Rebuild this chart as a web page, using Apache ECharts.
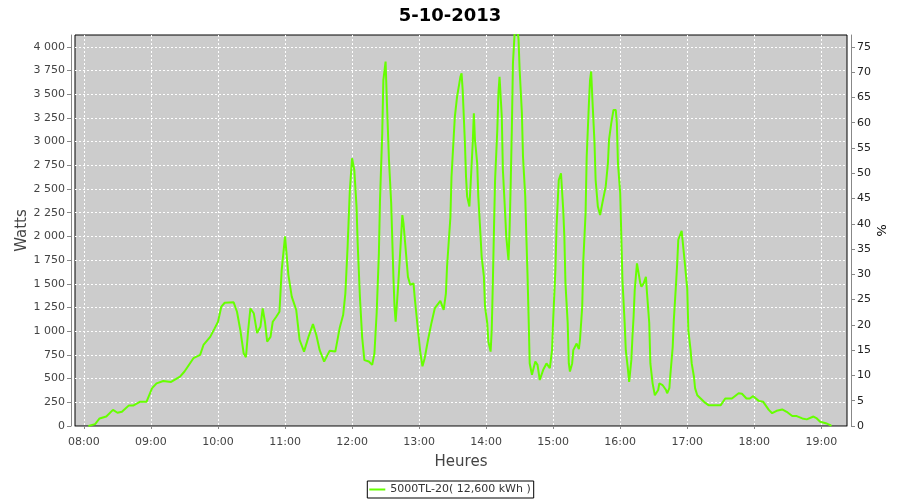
<!DOCTYPE html>
<html>
<head>
<meta charset="utf-8">
<script src="https://cdn.jsdelivr.net/npm/echarts@6/dist/echarts.min.js"></script>
<style>
html,body{margin:0;padding:0;background:#fff;}
#chart{width:900px;height:500px;}
</style>
</head>
<body>
<div id="chart"></div>
<script>
var day = '2013-10-05';
var title = '5-10-2013';
var seriesName = '5000TL-20( 12,600 kWh )';
var times = ['08:04','08:10','08:14','08:20','08:26','08:30','08:34','08:40','08:44','08:50','08:56',
'09:01','09:05','09:11','09:18','09:26','09:30','09:38','09:44','09:47','09:53','09:57',
'10:00','10:03','10:06','10:14','10:17','10:20','10:23','10:25','10:27','10:29','10:32','10:35','10:38','10:40','10:42','10:44','10:47','10:49','10:52','10:55','10:57',
'11:00','11:03','11:06','11:10','11:13','11:17','11:21','11:25','11:28','11:31','11:35','11:40','11:45','11:49','11:52','11:54','11:56','11:58',
'12:00','12:02','12:04','12:05','12:07','12:09','12:11','12:15','12:18','12:20','12:22','12:24','12:25','12:27','12:28','12:30','12:31','12:33','12:35','12:37','12:38','12:39','12:41','12:43','12:45','12:46','12:48','12:50','12:52','12:55','12:56','12:59',
'13:01','13:03','13:05','13:08','13:11','13:14','13:19','13:22','13:24','13:25','13:28','13:29','13:31','13:32','13:34','13:37','13:38','13:39','13:41','13:42','13:43','13:45','13:46','13:48','13:49','13:50','13:52','13:53','13:55','13:56','13:58','13:59',
'14:01','14:02','14:04','14:05','14:06','14:07','14:08','14:10','14:11','14:12','14:14','14:15','14:17','14:18','14:20','14:21','14:22','14:23','14:24','14:26','14:28','14:29','14:30','14:32','14:33','14:35','14:36','14:37','14:38','14:39','14:41','14:44','14:46','14:48','14:51','14:54','14:57','14:59',
'15:00','15:02','15:03','15:05','15:07','15:09','15:10','15:11','15:13','15:14','15:15','15:17','15:18','15:21','15:23','15:24','15:26','15:27','15:29','15:30','15:32','15:33','15:34','15:35','15:37','15:38','15:40','15:42','15:44','15:47','15:49','15:50','15:52','15:54','15:56','15:57','15:58',
'16:00','16:01','16:02','16:04','16:05','16:07','16:08','16:10','16:11','16:12','16:13','16:15','16:16','16:18','16:19','16:21','16:23','16:24','16:26','16:27','16:29','16:31','16:34','16:35','16:38','16:41','16:42','16:44','16:45','16:47','16:48','16:50','16:51','16:52','16:55','16:56','16:58',
'17:00','17:01','17:03','17:04','17:06','17:07','17:09','17:12','17:15','17:19','17:30','17:34','17:40','17:46','17:49','17:53','17:56','17:59',
'18:04','18:08','18:13','18:16','18:20','18:25','18:29','18:34','18:38','18:43','18:47','18:53','18:56','18:59',
'19:04','19:08','19:09'];
var watts = [0,20,80,100,170,140,150,215,215,255,255,
400,450,475,465,520,575,715,750,855,940,1030,
1100,1260,1300,1305,1205,1010,765,725,1010,1240,1190,980,1050,1240,1100,890,940,1100,1150,1205,1645,
2000,1595,1365,1225,910,785,940,1075,960,800,680,795,785,1040,1170,1400,1890,2490,
2825,2700,2315,1930,1365,940,695,680,645,765,1190,1820,2385,3090,3650,3845,3475,2810,2350,1575,1260,1100,1435,1820,2225,2140,1860,1575,1490,1505,1365,1010,
785,630,715,910,1085,1240,1320,1225,1400,1680,2200,2630,3055,3265,3475,3685,3720,3545,2985,2630,2420,2315,2525,2985,3300,3020,2770,2420,2000,1785,1575,1260,
1085,890,785,1010,1505,2070,2595,3125,3510,3685,3265,2700,2245,2000,1750,2070,2560,3125,3830,4250,4200,4075,3755,3300,2840,2420,2000,1610,1155,660,540,680,645,485,590,660,610,800,
1120,1645,2100,2595,2665,2280,2000,1505,1085,660,575,660,800,870,810,910,1260,1750,2245,2840,3405,3650,3740,3475,2985,2595,2315,2225,2350,2525,2770,3020,3195,3335,3335,3195,2770,
2455,2000,1540,1085,800,590,465,700,950,1155,1435,1715,1645,1505,1470,1505,1575,1400,1085,660,450,325,380,450,430,380,345,400,555,835,1120,1505,1715,1965,2060,2070,1700,
1450,1010,800,660,520,400,325,290,255,220,220,290,290,345,340,290,290,315,
265,255,170,135,160,175,150,105,105,80,70,100,80,45,
30,10,0];

var data = times.map(function (t, i) { return [day + ' ' + t, watts[i]]; });

function thousands(v) {
  if (v >= 1000) {
    var r = String(v % 1000);
    while (r.length < 3) r = '0' + r;
    return Math.floor(v / 1000) + ' ' + r;
  }
  return String(v);
}

var font = 'DejaVu Sans';
var labelColor = '#444444';
var axisGray = '#888888';
var gridLine = {show: true, showMinLine: false, showMaxLine: false,
                lineStyle: {color: '#ffffff', type: [2, 2], width: 1}};

var chart = echarts.init(document.getElementById('chart'), null, {renderer: 'canvas'});
chart.setOption({
  animation: false,
  backgroundColor: '#ffffff',
  title: {
    text: title, left: 'center', top: 2,
    textStyle: {fontFamily: font, fontSize: 18, fontWeight: 'bold', color: '#000'}
  },
  legend: {
    bottom: 2, left: 'center',
    data: [{name: seriesName, icon: 'rect'}],
    itemWidth: 16, itemHeight: 2,
    padding: [3, 3, 3, 2],
    borderColor: '#000', borderWidth: 1, borderRadius: 0,
    textStyle: {fontFamily: font, fontSize: 11, color: '#333'}
  },
  grid: {
    left: 75, right: 53, top: 35, bottom: 74,
    show: true, backgroundColor: '#cccccc', borderColor: '#000', borderWidth: 1,
    containLabel: false
  },
  xAxis: {
    type: 'time',
    min: day + ' 07:52', max: day + ' 19:23',
    minInterval: 3600 * 1000, maxInterval: 3600 * 1000,
    offset: 4,
    name: 'Heures', nameLocation: 'middle', nameGap: 25,
    nameTextStyle: {fontFamily: font, fontSize: 15, color: labelColor},
    axisLine: {show: true, lineStyle: {color: axisGray, width: 1}},
    axisTick: {show: true, length: 3, lineStyle: {color: axisGray}},
    axisLabel: {formatter: '{HH}:{mm}', fontFamily: font, fontSize: 11, color: labelColor, margin: 7,
                showMinLabel: false, showMaxLabel: false, rich: {}},
    splitLine: gridLine
  },
  yAxis: [{
    type: 'value', min: 0, max: 4125, interval: 250,
    position: 'left', offset: 4,
    name: 'Watts', nameLocation: 'middle', nameGap: 41, nameRotate: 90,
    nameMoveOverlap: false,
    nameTextStyle: {fontFamily: font, fontSize: 15, color: labelColor},
    axisLine: {show: true, lineStyle: {color: axisGray, width: 1}},
    axisTick: {show: true, length: 4, lineStyle: {color: axisGray}},
    axisLabel: {formatter: thousands, fontFamily: font, fontSize: 11, color: labelColor, margin: 6, showMaxLabel: false},
    splitLine: gridLine
  }, {
    type: 'value', min: 0, max: 4125 * 75 / 4000, interval: 5,
    position: 'right', offset: 4,
    name: '%', nameLocation: 'middle', nameGap: 23, nameRotate: -90,
    nameMoveOverlap: false,
    nameTextStyle: {fontFamily: font, fontSize: 13, color: '#000'},
    axisLine: {show: true, lineStyle: {color: axisGray, width: 1}},
    axisTick: {show: true, length: 4, lineStyle: {color: axisGray}},
    axisLabel: {fontFamily: font, fontSize: 11, color: '#222', margin: 6, showMaxLabel: false},
    splitLine: {show: false}
  }],
  series: [{
    name: seriesName,
    type: 'line',
    yAxisIndex: 0,
    data: data,
    showSymbol: false,
    symbol: 'none',
    clip: true,
    lineStyle: {color: '#66ff00', width: 2},
    itemStyle: {color: '#66ff00'}
  }]
});
</script>
</body>
</html>
